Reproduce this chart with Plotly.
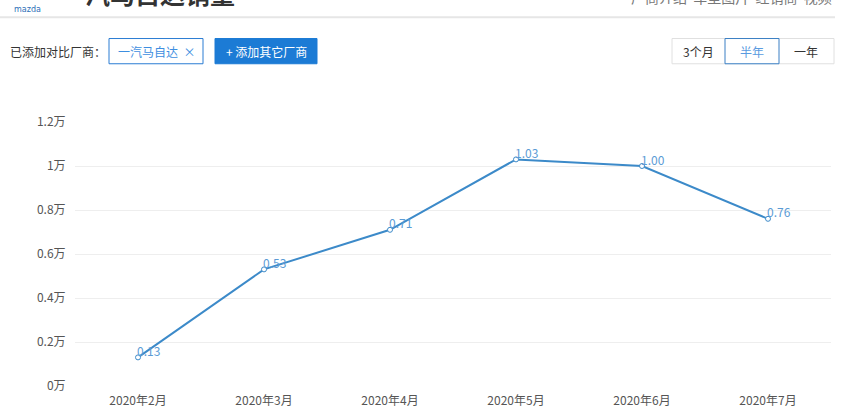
import plotly.graph_objects as go

# monthly sales, unit: 万 (10k vehicles)
months = ["2020年2月", "2020年3月", "2020年4月", "2020年5月", "2020年6月", "2020年7月"]
sales = [0.13, 0.53, 0.71, 1.03, 1.00, 0.76]
y_ticks = [0, 0.2, 0.4, 0.6, 0.8, 1.0, 1.2]
y_tick_text = ["0万", "0.2万", "0.4万", "0.6万", "0.8万", "1万", "1.2万"]

W, H = 852, 420
L, R, T, B = 75, 21, 122, 26
FONT = "Noto Sans CJK SC"
LINE_BLUE = "#3c8ac9"


def px(x):
    return (x - L) / (W - L - R)


def py(y):
    return (H - B - y) / (H - T - B)


fig = go.Figure()
fig.add_trace(go.Scatter(
    x=months, y=sales,
    mode="lines+markers",
    line=dict(color=LINE_BLUE, width=2),
    marker=dict(symbol="circle", size=5, color="white",
                line=dict(color=LINE_BLUE, width=1)),
    hoverinfo="x+y",
    cliponaxis=False,
))

shapes = []
annos = []

# value labels just above-right of each point
for m, v in zip(months, sales):
    annos.append(dict(text=f"{v:.2f}", x=m, y=v, xref="x", yref="y",
                      xanchor="left", yanchor="middle", xshift=-3, yshift=7,
                      font=dict(size=12, color="#5b9bd5", family=FONT), showarrow=False))

# header line
shapes.append(dict(type="line", xref="paper", yref="paper",
                   x0=px(0), x1=px(835), y0=py(14), y1=py(14),
                   line=dict(color="#e6e6e6", width=2)))
# cut-off title
annos.append(dict(text="<b>一汽马自达销量</b>", x=px(58), y=py(10), xanchor="left", yanchor="bottom",
                  font=dict(size=25, color="#333333", family=FONT)))
annos.append(dict(text="mazda", x=px(27), y=py(6), xanchor="center", yanchor="middle",
                  font=dict(size=8, color="#2d6fb8", family="DejaVu Sans")))
annos.append(dict(text="厂商介绍  车型图片  经销商  视频", x=px(834), y=py(6), xanchor="right", yanchor="bottom",
                  font=dict(size=14, color="#777777", family=FONT)))

# compare selector
annos.append(dict(text="已添加对比厂商：", x=px(8), y=py(49), xanchor="left", yanchor="middle",
                  font=dict(size=12, color="#333333", family=FONT)))
shapes.append(dict(type="rect", xref="paper", yref="paper",
                   x0=px(109), x1=px(203), y0=py(36), y1=py(62),
                   line=dict(color="#2b7cd3", width=1), fillcolor="white"))
annos.append(dict(text="一汽马自达  ×", x=px(156), y=py(49), xanchor="center", yanchor="middle",
                  font=dict(size=12, color="#3d8ee0", family=FONT)))
shapes.append(dict(type="rect", xref="paper", yref="paper",
                   x0=px(215), x1=px(317), y0=py(36), y1=py(62),
                   line=dict(color="#1c7bd5", width=1), fillcolor="#1c7bd5"))
annos.append(dict(text="+ 添加其它厂商", x=px(266), y=py(49), xanchor="center", yanchor="middle",
                  font=dict(size=12, color="white", family=FONT)))

# period buttons
shapes.append(dict(type="rect", xref="paper", yref="paper",
                   x0=px(672), x1=px(834), y0=py(36), y1=py(62),
                   line=dict(color="#e0e0e0", width=1), fillcolor="white"))
shapes.append(dict(type="rect", xref="paper", yref="paper",
                   x0=px(725), x1=px(779), y0=py(36), y1=py(62),
                   line=dict(color="#3a7fc4", width=1), fillcolor="white"))
for label, cx, col in [("3个月", 698, "#333333"), ("半年", 752, "#5a9be0"), ("一年", 806, "#333333")]:
    annos.append(dict(text=label, x=px(cx), y=py(49), xanchor="center", yanchor="middle",
                      font=dict(size=12, color=col, family=FONT)))

for a in annos:
    a.setdefault("xref", "paper")
    a.setdefault("yref", "paper")
    a["showarrow"] = False

fig.update_layout(
    width=W, height=H,
    margin=dict(l=L, r=R, t=T, b=B),
    paper_bgcolor="white", plot_bgcolor="white",
    showlegend=False,
    font=dict(family=FONT, size=12, color="#555555"),
    shapes=shapes, annotations=annos,
    xaxis=dict(type="category", range=[-0.5, 5.5], showgrid=False, zeroline=False,
               showline=False, ticks="outside", ticklen=4, tickcolor="rgba(0,0,0,0)",
               tickfont=dict(size=12, color="#555555", family=FONT), fixedrange=True),
    yaxis=dict(range=[0, 1.2], tickvals=y_ticks, ticktext=y_tick_text,
               showgrid=True, gridcolor="#eeeeee", gridwidth=1, zeroline=False,
               showline=False, ticks="outside", ticklen=6, tickcolor="rgba(0,0,0,0)",
               tickfont=dict(size=12, color="#555555", family=FONT), fixedrange=True),
)

fig.write_html("out.html", config={"displayModeBar": False},
               post_script="document.body.style.margin='0';")
